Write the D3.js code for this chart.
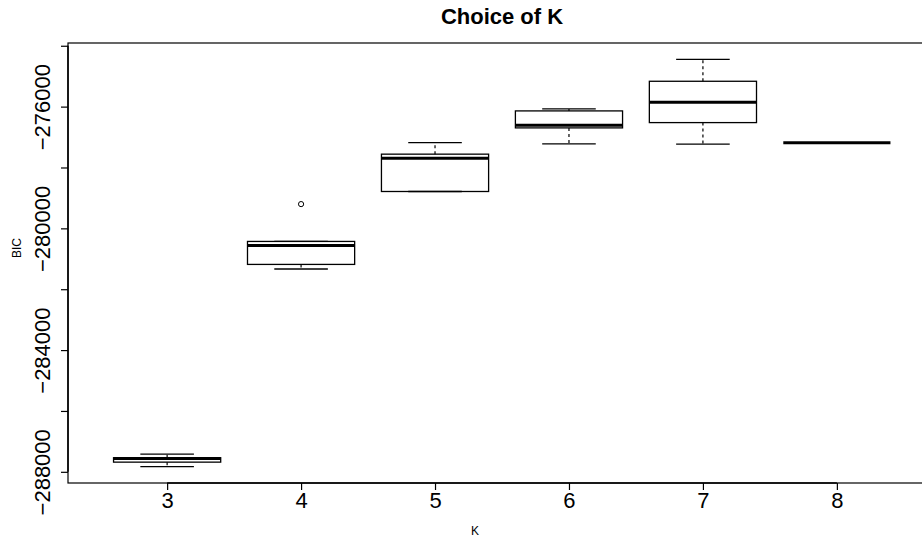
<!DOCTYPE html>
<html>
<head>
<meta charset="utf-8">
<script src="https://cdn.jsdelivr.net/npm/d3@7"></script>
<style>
  html, body { margin: 0; padding: 0; background: #fff; }
  svg { display: block; font-family: "Liberation Sans", Arial, Helvetica, sans-serif; }
</style>
</head>
<body>
<svg id="chart" width="922" height="537"></svg>
<script>
// ---- data ----
const categories    = [3, 4, 5, 6, 7, 8];
const lowerWhisker  = [-287832, -281336, -278789, -277224, -277234, -277191];
const q1            = [-287682, -281185, -278789, -276699, -276525, -277191];
const medians       = [-287560, -280561, -277700, -276610, -275856, -277191];
const q3            = [-287537, -280430, -277562, -276141, -275167, -277191];
const upperWhisker  = [-287419, -280430, -277181, -276075, -274445, -277191];
const outliers      = [[], [-279203], [], [], [], []];
const yTicks        = [-288000, -286000, -284000, -282000, -280000, -278000, -276000, -274000];
const yTickLabels   = ["−288000", "", "−284000", "", "−280000", "", "−276000", ""];
const titleText = "Choice of K";
const xLabel = "K";
const yLabel = "BIC";

(function () {
// ---- layout ----
const svg = d3.select("#chart");
const mLeft = 68, mRight = 936, mTop = 43, mBottom = 483;

const allVals = lowerWhisker.concat(upperWhisker, outliers.flat());
const dMin = d3.min(allVals), dMax = d3.max(allVals);
const pad = (dMax - dMin) * 0.04;
const y = d3.scaleLinear().domain([dMin - pad, dMax + pad]).range([mBottom, mTop]);
const nCat = categories.length;
const x = d3.scaleLinear().domain([2.26, 2.26 + (nCat + 0.48)]).range([mLeft, mRight]);
const step = x(1) - x(0);
const boxW = step * 0.8, capW = boxW * 0.5;

const data = categories.map((k, i) => ({
  k, lo: lowerWhisker[i], q1: q1[i], med: medians[i], q3: q3[i], hi: upperWhisker[i], out: outliers[i]
}));

const g = svg.append("g");

data.forEach(d => {
  const cx = x(d.k);
  if (y(d.hi) < y(d.q3)) g.append("line").attr("x1", cx).attr("x2", cx).attr("y1", y(d.q3)).attr("y2", y(d.hi))
    .attr("stroke", "#000").attr("stroke-width", 1.2).attr("stroke-dasharray", "3,3");
  if (y(d.lo) > y(d.q1)) g.append("line").attr("x1", cx).attr("x2", cx).attr("y1", y(d.q1)).attr("y2", y(d.lo))
    .attr("stroke", "#000").attr("stroke-width", 1.2).attr("stroke-dasharray", "3,3");
  [d.hi, d.lo].forEach(v => {
    g.append("line").attr("x1", cx - capW / 2).attr("x2", cx + capW / 2).attr("y1", y(v)).attr("y2", y(v))
      .attr("stroke", "#000").attr("stroke-width", 1.3);
  });
  g.append("rect").attr("x", cx - boxW / 2).attr("width", boxW)
    .attr("y", y(d.q3)).attr("height", Math.max(0, y(d.q1) - y(d.q3)))
    .attr("fill", "none").attr("stroke", "#000").attr("stroke-width", 1.3);
  g.append("line").attr("x1", cx - boxW / 2).attr("x2", cx + boxW / 2).attr("y1", y(d.med)).attr("y2", y(d.med))
    .attr("stroke", "#000").attr("stroke-width", 3);
  d.out.forEach(v => {
    g.append("circle").attr("cx", cx).attr("cy", y(v)).attr("r", 2.6)
      .attr("fill", "none").attr("stroke", "#000").attr("stroke-width", 1);
  });
});

// frame
svg.append("rect").attr("x", mLeft).attr("y", mTop).attr("width", mRight - mLeft).attr("height", mBottom - mTop)
  .attr("fill", "none").attr("stroke", "#000").attr("stroke-width", 1.2);

// y axis
const yAxis = d3.axisLeft(y).tickValues(yTicks).tickSize(7).tickFormat((d, i) => yTickLabels[i]);
const ya = svg.append("g").attr("transform", `translate(${mLeft},0)`).call(yAxis);
ya.select(".domain").remove();
ya.selectAll(".tick line").attr("stroke", "#000").attr("stroke-width", 1.2);
ya.selectAll(".tick text")
  .attr("font-size", 22).attr("fill", "#000")
  .attr("text-anchor", "middle")
  .attr("x", 0).attr("y", 0).attr("dy", null)
  .attr("transform", `translate(${50 - mLeft},0) rotate(-90)`);

// x axis
const xAxis = d3.axisBottom(x).tickValues(categories).tickSize(7).tickFormat(d3.format("d"));
const xa = svg.append("g").attr("transform", `translate(0,${mBottom})`).call(xAxis);
xa.select(".domain").attr("d", `M${x(categories[0])},0H${x(categories[nCat - 1])}`).attr("stroke", "#000").attr("stroke-width", 1.5);
xa.selectAll(".tick line").attr("stroke", "#000").attr("stroke-width", 1.2);
xa.selectAll(".tick text").attr("font-size", 22).attr("fill", "#000").attr("y", 25).attr("dy", null);

svg.append("line").attr("x1", mLeft).attr("x2", mLeft).attr("y1", y(yTicks[0])).attr("y2", y(yTicks[yTicks.length - 1]))
  .attr("stroke", "#000").attr("stroke-width", 1.5);

// title and labels
svg.append("text").attr("x", 502).attr("y", 24).attr("text-anchor", "middle")
  .attr("font-size", 22).attr("font-weight", "bold").text(titleText);
svg.append("text").attr("x", 475).attr("y", 535).attr("text-anchor", "middle")
  .attr("font-size", 12).text(xLabel);
svg.append("text").attr("transform", "translate(21,248) rotate(-90)").attr("text-anchor", "middle")
  .attr("font-size", 12).text(yLabel);
})();
</script>
</body>
</html>
